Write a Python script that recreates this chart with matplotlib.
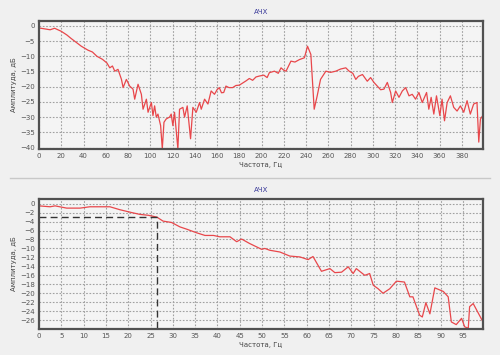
import numpy as np
import matplotlib
matplotlib.use('Agg')
from matplotlib import pyplot as plt
from matplotlib.lines import Line2D

# top panel: frequency response 0..400 Hz
freq_top = [0, 5, 10, 14, 20, 25, 29, 34, 38, 44, 48, 52, 57, 61, 63.6, 66, 68.1, 71,
            74.1, 75.6, 78.5, 81.5, 84.5, 86, 89, 92, 93.5, 96.5, 98, 101, 102.4, 103.9,
            105.4, 106.9, 109.3, 110.8, 112.3, 114.3, 117.3, 118.8, 120.3, 121.8, 124.8,
            126.3, 129.3, 130.8, 133.2, 136.2, 138.3, 141.3, 144.3, 145.8, 148.8, 151.8,
            154.7, 157.7, 160, 162, 164, 166, 168, 170.7, 174, 177, 180, 183, 186, 189,
            192, 195, 198, 202, 205, 207, 211.6, 215, 217.5, 220, 222, 226.4, 230, 234,
            238.5, 241.3, 244.3, 247.3, 250, 253, 257.8, 262, 266.7, 271, 275.7, 278.7,
            282, 284.7, 287, 290.7, 295, 298, 301, 304, 307, 310, 313, 316, 317.5, 320.5,
            323.5, 326.5, 329.5, 332.5, 335.4, 338.4, 341.4, 344.4, 348.3, 350.3, 352.4,
            354.8, 357.2, 360.2, 362.2, 364.4, 366.8, 369.7, 372.7, 375.7, 378.7, 381.7,
            384.7, 387.6, 390.6, 393.6, 395.2, 396.7, 398.8]
amp_top = [-0.7, -1.0, -1.3, -0.8, -1.8, -3.0, -4.2, -5.6, -6.7, -8.0, -8.6, -10.0, -11.0,
           -12.2, -13.8, -13.2, -14.9, -14.3, -17.6, -20.3, -17.6, -19.8, -20.8, -24.1,
           -19.2, -22.5, -27.4, -24.1, -28.4, -25.2, -29.5, -26.3, -30.0, -29.0, -32.8,
           -40.4, -31.7, -30.6, -30.0, -29.0, -32.8, -28.4, -40.4, -27.4, -26.8, -30.0,
           -26.3, -37.1, -26.8, -28.4, -25.2, -27.4, -24.1, -25.7, -21.4, -22.5, -21.0,
           -20.3, -22.0, -21.9, -19.8, -20.3, -20.3, -19.6, -19.5, -18.8, -18.1, -17.3,
           -17.9, -16.8, -16.5, -16.2, -17.0, -15.4, -14.9, -15.6, -13.8, -14.6, -14.9,
           -11.6, -11.9, -11.1, -10.5, -6.7, -9.4, -27.4, -23.0, -17.6, -14.9, -15.3,
           -14.9, -14.2, -13.8, -14.9, -15.6, -17.6, -16.6, -16.0, -18.2, -17.0, -18.6,
           -19.8, -21.0, -20.8, -18.6, -21.9, -25.2, -21.4, -23.5, -21.4, -20.3, -23.0,
           -22.5, -24.1, -21.9, -25.2, -21.9, -27.4, -23.5, -29.0, -23.0, -29.5, -24.1,
           -31.2, -25.2, -23.0, -26.8, -28.0, -26.3, -28.4, -24.6, -29.0, -25.7, -25.2,
           -38.2, -30.6, -29.5]

# bottom panel: zoom 0..100 Hz
freq_bot = [0, 2.5, 3.6, 6.2, 9.2, 11.4, 13.7, 15.9, 18.1, 20.8, 22.6, 24.5, 26.4, 27.8,
            29.7, 31.6, 33.1, 35.3, 37.2, 39.1, 40.5, 42.8, 44.3, 45.4, 47.2, 49.9, 50.6,
            51.7, 54, 56.2, 58.5, 60.3, 61.4, 63.3, 65.2, 66.3, 67.8, 69.3, 70.4, 71.1,
            73, 74.1, 74.9, 76, 77.1, 78.6, 80.1, 81.9, 83.1, 83.8, 85.3, 85.9, 86.7,
            87.6, 88.7, 90.6, 91.7, 92.4, 93.5, 94.7, 95.4, 96.2, 96.5, 97.3, 99.5]
amp_bot = [-0.5, -0.7, -0.5, -1.0, -1.0, -0.7, -0.7, -0.7, -1.35, -2.0, -2.4, -2.6, -3.0,
           -3.9, -4.2, -5.2, -5.7, -6.5, -7.1, -7.1, -7.4, -7.4, -8.5, -7.9, -8.9, -10.2,
           -10.0, -10.4, -10.8, -11.7, -11.9, -12.5, -11.8, -15.1, -14.5, -15.4, -15.3,
           -14.1, -15.6, -14.5, -16.0, -15.6, -18.2, -19.0, -20.0, -19.0, -17.3, -17.5,
           -20.8, -20.8, -24.9, -25.3, -22.1, -24.6, -18.8, -19.6, -20.8, -26.4, -27.0,
           -25.6, -27.5, -27.8, -23.0, -22.3, -26.4]

cutoff_freq = 26.4
cutoff_level = -3

bg = '#f0f0f0'
red = '#e8474b'
fig = plt.figure(figsize=(5, 3.55), dpi=100, facecolor=bg)

ax1 = fig.add_axes([0.078, 0.580, 0.888, 0.361])
ax2 = fig.add_axes([0.078, 0.073, 0.888, 0.366])

def style(ax, title):
    ax.set_facecolor('#f4f4f4')
    for s in ax.spines.values():
        s.set_color('#505050')
        s.set_linewidth(1.6)
    ax.grid(True, color='#a0a0a0', linestyle=(0, (1.5, 1.5)), linewidth=0.8)
    ax.tick_params(labelsize=5, colors='#555555', length=0, pad=3)
    ax.set_title(title, fontsize=5, color='#3a3a9a', pad=5)
    ax.set_xlabel('Частота, Гц', fontsize=5, color='#444444', labelpad=2)
    ax.set_ylabel('Амплитуда, дБ', fontsize=5, color='#444444', labelpad=2)

ax1.plot(freq_top, amp_top, color=red, linewidth=0.9)
ax1.set_xlim(0, 399)
ax1.set_ylim(-40.5, 1.6)
ax1.set_xticks(np.arange(0, 381, 20))
ax1.set_yticks(np.arange(-40, 1, 5))
style(ax1, 'АЧХ')

ax2.plot(freq_bot, amp_bot, color=red, linewidth=0.9)
ax2.plot([0, cutoff_freq, cutoff_freq], [cutoff_level, cutoff_level, -28],
         color='#333333', linestyle=(0, (5, 3)), linewidth=1.0)
ax2.set_xlim(0, 99.5)
ax2.set_ylim(-28, 1)
ax2.set_xticks(np.arange(0, 96, 5))
ax2.set_yticks(np.arange(-26, 1, 2))
style(ax2, 'АЧХ')

# separator between the two panels
fig.add_artist(Line2D([0.02, 0.98], [0.499, 0.499], color='#c8c8c8', linewidth=1.0))

fig.savefig('out.png', dpi=100, facecolor=bg)
